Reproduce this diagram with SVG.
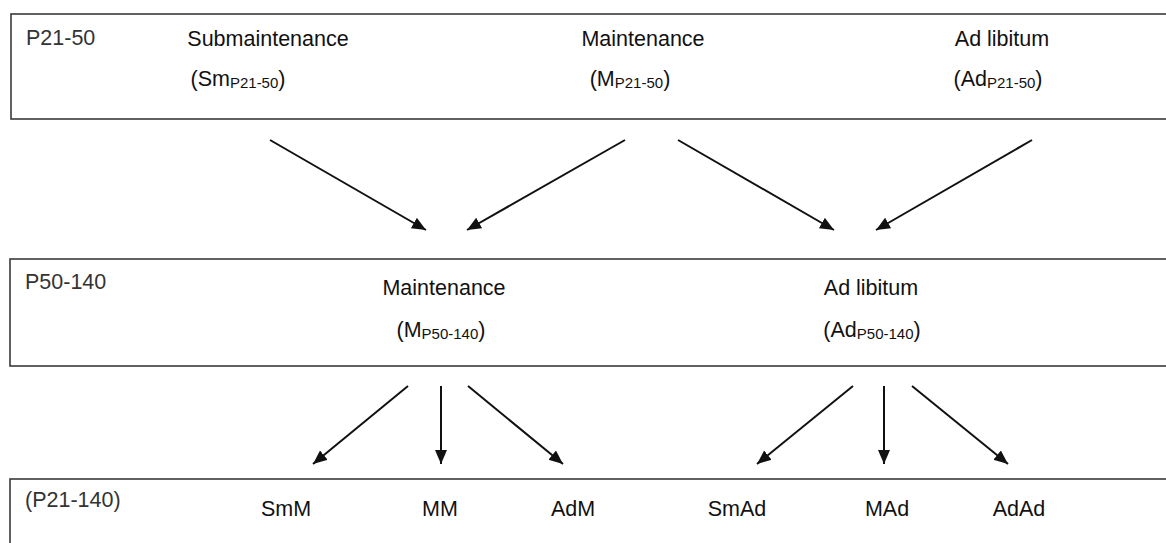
<svg xmlns="http://www.w3.org/2000/svg" width="1166" height="543" viewBox="0 0 1166 543">
<style>
.box{fill:#fff;stroke:#3a3a3a;stroke-width:1.6}
.t{font-family:"Liberation Sans",Arial,sans-serif;font-size:21.5px;fill:#111}
.lab{font-family:"Liberation Sans",Arial,sans-serif;font-size:21.5px;fill:#333}
.c{text-anchor:middle}
.sub{font-size:15px}
.arr{stroke:#111;stroke-width:2;fill:none;marker-end:url(#ah)}
</style>
<defs>
<marker id="ah" markerUnits="userSpaceOnUse" markerWidth="16" markerHeight="14" refX="14" refY="6" orient="auto">
<path d="M0,0 L14,6 L0,12 Z" fill="#111"/>
</marker>
</defs>
<rect width="1166" height="543" fill="#fff"/>
<g id="row1">
<rect class="box" x="11" y="14" width="1170" height="105"/>
<text class="lab" x="26" y="45">P21-50</text>
</g>
<g id="sm_p21">
<text class="t c" x="268" y="46">Submaintenance</text>
<text class="t c" x="238" y="86">(Sm<tspan class="sub" dy="2">P21-50</tspan><tspan dy="-2">)</tspan></text>
</g>
<g id="m_p21">
<text class="t c" x="643" y="46">Maintenance</text>
<text class="t c" x="630" y="86">(M<tspan class="sub" dy="2">P21-50</tspan><tspan dy="-2">)</tspan></text>
</g>
<g id="ad_p21">
<text class="t c" x="1002" y="46">Ad libitum</text>
<text class="t c" x="998" y="86">(Ad<tspan class="sub" dy="2">P21-50</tspan><tspan dy="-2">)</tspan></text>
</g>
<g id="row2">
<rect class="box" x="10" y="259" width="1170" height="107"/>
<text class="lab" x="25" y="289">P50-140</text>
</g>
<g id="m_p50">
<text class="t c" x="444" y="295">Maintenance</text>
<text class="t c" x="441" y="337">(M<tspan class="sub" dy="2">P50-140</tspan><tspan dy="-2">)</tspan></text>
</g>
<g id="ad_p50">
<text class="t c" x="871" y="295">Ad libitum</text>
<text class="t c" x="872" y="337">(Ad<tspan class="sub" dy="2">P50-140</tspan><tspan dy="-2">)</tspan></text>
</g>
<g id="row3">
<rect class="box" x="10" y="479" width="1170" height="80"/>
<text class="lab" x="25" y="507">(P21-140)</text>
</g>
<g id="smm"><text class="t c" x="286" y="516">SmM</text></g>
<g id="mm"><text class="t c" x="440" y="516">MM</text></g>
<g id="adm"><text class="t c" x="573" y="516">AdM</text></g>
<g id="smad"><text class="t c" x="737" y="516">SmAd</text></g>
<g id="mad"><text class="t c" x="887" y="516">MAd</text></g>
<g id="adad"><text class="t c" x="1019" y="516">AdAd</text></g>
<g id="connectors">
<line class="arr" x1="270" y1="140" x2="426" y2="230"/>
<line class="arr" x1="625" y1="140" x2="467" y2="230"/>
<line class="arr" x1="678" y1="140" x2="834" y2="230"/>
<line class="arr" x1="1032" y1="140" x2="876" y2="230"/>
<line class="arr" x1="408" y1="386" x2="313" y2="464"/>
<line class="arr" x1="441" y1="386" x2="441" y2="464"/>
<line class="arr" x1="468" y1="386" x2="563" y2="464"/>
<line class="arr" x1="853" y1="386" x2="757" y2="464"/>
<line class="arr" x1="884" y1="386" x2="884" y2="464"/>
<line class="arr" x1="912" y1="386" x2="1008" y2="464"/>
</g>
</svg>
